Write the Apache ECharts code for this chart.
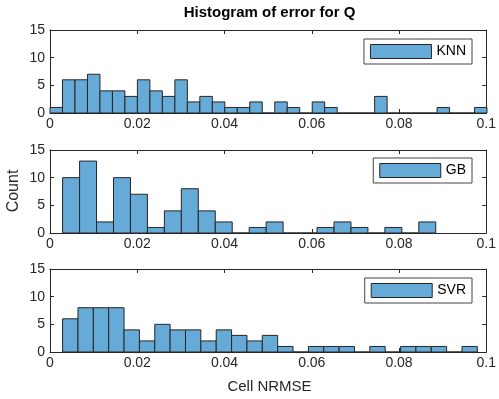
<!DOCTYPE html>
<html>
<head>
<meta charset="utf-8">
<script src="https://cdn.jsdelivr.net/npm/echarts@6/dist/echarts.min.js"></script>
<style>
  html, body { margin: 0; padding: 0; background: #fff; }
  #chart { width: 499px; height: 399px; }
</style>
</head>
<body>
<div id="chart"></div>
<script>
// histogram bins
const knnStart = 0
const knnWidth = 0.002862
const knnCounts = [1, 6, 6, 7, 4, 4, 3, 6, 4, 3, 6, 2, 3, 2, 1, 1, 2, 0, 2, 1, 0, 2, 1, 0, 0, 0, 3, 0, 0, 0, 0, 1, 0, 0, 1]

const gbStart = 0.00289
const gbWidth = 0.003888
const gbCounts = [10, 13, 2, 10, 7, 1, 4, 8, 4, 2, 0, 1, 2, 0, 0, 1, 2, 1, 0, 1, 0, 2]

const svrStart = 0.00289
const svrWidth = 0.003521
const svrCounts = [6, 8, 8, 8, 4, 2, 5, 4, 4, 2, 4, 3, 2, 3, 1, 0, 1, 1, 1, 0, 1, 0, 1, 1, 1, 0, 1]

const names = ['KNN', 'GB', 'SVR']
const xTicks = [0, 0.02, 0.04, 0.06, 0.08, 0.1]
const yTicks = [0, 5, 10, 15]

const Face = '#66aad7'
const Edge = '#262626'
const Ink = '#262626'
const Font = '"Liberation Sans", Arial, Helvetica, sans-serif'

const panels = [
  { start: knnStart, width: knnWidth, counts: knnCounts, top: 30, legendTop: 39 },
  { start: gbStart, width: gbWidth, counts: gbCounts, top: 150, legendTop: 158 },
  { start: svrStart, width: svrWidth, counts: svrCounts, top: 269, legendTop: 278 }
]

const toBins = (p) => p.counts.map((c, i) => [p.start + i * p.width, p.start + (i + 1) * p.width, c])

const grid = []
const xAxis = []
const yAxis = []
const series = []
const legend = []

panels.forEach((p, k) => {
  grid.push({ left: 50, right: 10, top: p.top, height: 83 })
  // bottom + top x axes (box with inner ticks)
  ;['bottom', 'top'].forEach(pos => {
    xAxis.push({
      gridIndex: k,
      type: 'value',
      position: pos,
      min: xTicks[0],
      max: xTicks[xTicks.length - 1],
      interval: 0.02,
      splitLine: { show: false },
      axisLine: { show: true, onZero: false, lineStyle: { color: Ink, width: 1 } },
      axisTick: { show: true, inside: true, length: 4, lineStyle: { color: Ink } },
      axisLabel: {
        show: pos === 'bottom',
        margin: 4,
        color: Ink,
        fontSize: 14,
        fontFamily: Font,
        showMaxLabel: true,
        formatter: v => String(+v.toFixed(2))
      }
    })
  })
  ;['left', 'right'].forEach(pos => {
    yAxis.push({
      gridIndex: k,
      type: 'value',
      position: pos,
      min: yTicks[0],
      max: yTicks[yTicks.length - 1],
      interval: 5,
      splitLine: { show: false },
      axisLine: { show: true, onZero: false, lineStyle: { color: Ink, width: 1 } },
      axisTick: { show: true, inside: true, length: 4, lineStyle: { color: Ink } },
      axisLabel: {
        show: pos === 'left',
        margin: 5,
        color: Ink,
        fontSize: 14,
        fontFamily: Font
      }
    })
  })
  series.push({
    name: names[k],
    type: 'custom',
    xAxisIndex: k * 2,
    yAxisIndex: k * 2,
    data: toBins(p),
    encode: { x: [0, 1], y: 2 },
    itemStyle: { color: Face, borderColor: Edge, borderWidth: 1 },
    renderItem: function (params, api) {
      const a = api.coord([api.value(0), api.value(2)])
      const b = api.coord([api.value(1), 0])
      return {
        type: 'rect',
        shape: { x: a[0], y: a[1], width: b[0] - a[0], height: b[1] - a[1] },
        style: { fill: Face, stroke: Edge, lineWidth: 1 }
      }
    }
  })
  legend.push({
    data: [names[k]],
    right: 27,
    top: p.legendTop,
    icon: 'rect',
    itemWidth: 61,
    itemHeight: 14,
    padding: [5, 6, 5, 6],
    backgroundColor: '#fff',
    borderColor: '#444',
    borderWidth: 1,
    borderRadius: 0,
    selectedMode: false,
    itemStyle: { color: Face, borderColor: Edge, borderWidth: 1 },
    textStyle: { color: '#000', fontSize: 14, fontFamily: Font }
  })
})

const chart = echarts.init(document.getElementById('chart'), null, { renderer: 'canvas' })
chart.setOption({
  animation: false,
  backgroundColor: '#fff',
  grid,
  xAxis,
  yAxis,
  series,
  legend,
  graphic: [
    {
      type: 'text',
      x: 269.5,
      y: 13,
      style: { text: 'Histogram of error for Q', fill: '#000', font: 'bold 15px ' + Font, textAlign: 'center', textVerticalAlign: 'middle' }
    },
    {
      type: 'text',
      x: 14,
      y: 191,
      rotation: Math.PI / 2,
      style: { text: 'Count', fill: Ink, font: '16px ' + Font, textAlign: 'center', textVerticalAlign: 'middle' }
    },
    {
      type: 'text',
      x: 269.5,
      y: 387,
      style: { text: 'Cell NRMSE', fill: Ink, font: '15px ' + Font, textAlign: 'center', textVerticalAlign: 'middle' }
    }
  ]
})
</script>
</body>
</html>
